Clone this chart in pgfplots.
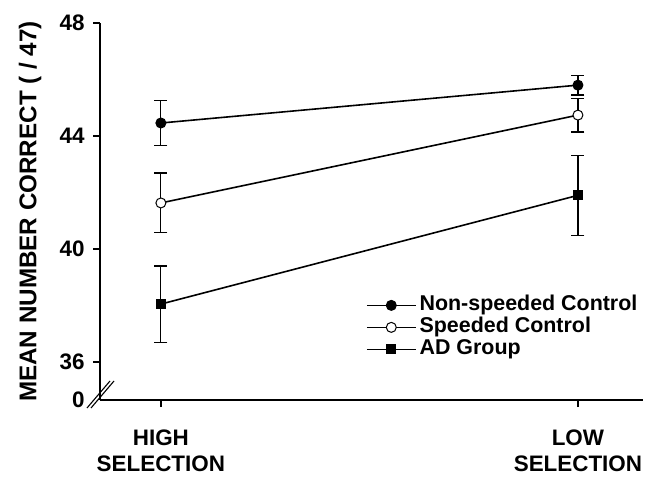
\documentclass[border=0pt]{standalone}
\usepackage{pgfplots}
\pgfplotsset{compat=1.18}
\usepackage{fontspec}
\setmainfont{Liberation Sans}
\begin{document}
\begin{tikzpicture}
\useasboundingbox (-100bp,-77bp) rectangle (549bp,400bp);
\begin{axis}[
  scale only axis, width=543bp, height=377bp,
  anchor=south west, at={(0bp,0bp)},
  xmin=-0.146, xmax=1.156, ymin=34.655, ymax=48,
  axis x line*=bottom, axis y line*=left,
  axis line style={line width=1.6bp, black, -},
  xtick={0,1}, xticklabels={HIGH\\SELECTION, LOW\\SELECTION},
  xticklabel style={align=center, font=\fontsize{22.5}{26}\selectfont\bfseries, yshift=-19bp},
  ytick={36,40,44,48},
  extra y ticks={34.655}, extra y tick labels={0},
  extra y tick style={major tick style={draw=none}},
  tick align=outside, major tick length=7bp,
  tick style={line width=1.3bp, black},
  yticklabel style={font=\fontsize{22.5}{26}\selectfont\bfseries, xshift=-5bp},
  /pgf/number format/assume math mode=true,
  ylabel={MEAN NUMBER CORRECT ( / 47)},
  ylabel style={font=\fontsize{24.3}{26}\selectfont\bfseries, at={(axis description cs:-0.1289,0.5)}, anchor=center},
  legend style={draw=none, fill=none, at={(rel axis cs:0.484,0.286)}, anchor=north west,
    font=\fontsize{21.5}{24}\selectfont\bfseries, row sep=0bp,
    nodes={text height=15bp, text depth=4bp, inner sep=1.5bp},
    /tikz/every odd column/.append style={column sep=1.5bp}},
  legend cell align=left,
  legend image code/.code={\draw[mark repeat=2,mark phase=2,#1] plot coordinates {(0bp,0bp) (24.5bp,0bp) (49bp,0bp)};},
  clip=false,
]
\addplot[black, line width=1.6bp, mark=*, mark size=5bp, mark options={solid, line width=1bp, fill=black},
  error bars/.cd, y dir=both, y explicit, error bar style={line width=1.2bp},
  error mark options={rotate=90, line width=1.2bp, mark size=6.5bp, black}]
  coordinates {(0,44.46) +- (0,0.80) (1,45.80) +- (0,0.35)};
\addlegendentry{Non-speeded Control}
\addplot[black, line width=1.6bp, mark=*, mark size=5bp, mark options={solid, line width=1bp, fill=white},
  error bars/.cd, y dir=both, y explicit, error bar style={line width=1.2bp},
  error mark options={rotate=90, line width=1.2bp, mark size=6.5bp, black}]
  coordinates {(0,41.63) +- (0,1.06) (1,44.74) +- (0,0.60)};
\addlegendentry{Speeded Control}
\addplot[black, line width=1.6bp, mark=square*, mark size=4.5bp, mark options={solid, line width=1bp, fill=black},
  error bars/.cd, y dir=both, y explicit, error bar style={line width=1.2bp},
  error mark options={rotate=90, line width=1.2bp, mark size=6.5bp, black}]
  coordinates {(0,38.05) +- (0,1.35) (1,41.90) +- (0,1.42)};
\addlegendentry{AD Group}
\end{axis}
\draw[line width=1.1bp] (-13bp,-8bp) -- (10bp,19bp);
\draw[line width=1.1bp] (-9bp,-8bp) -- (14bp,19bp);
\end{tikzpicture}
\end{document}
